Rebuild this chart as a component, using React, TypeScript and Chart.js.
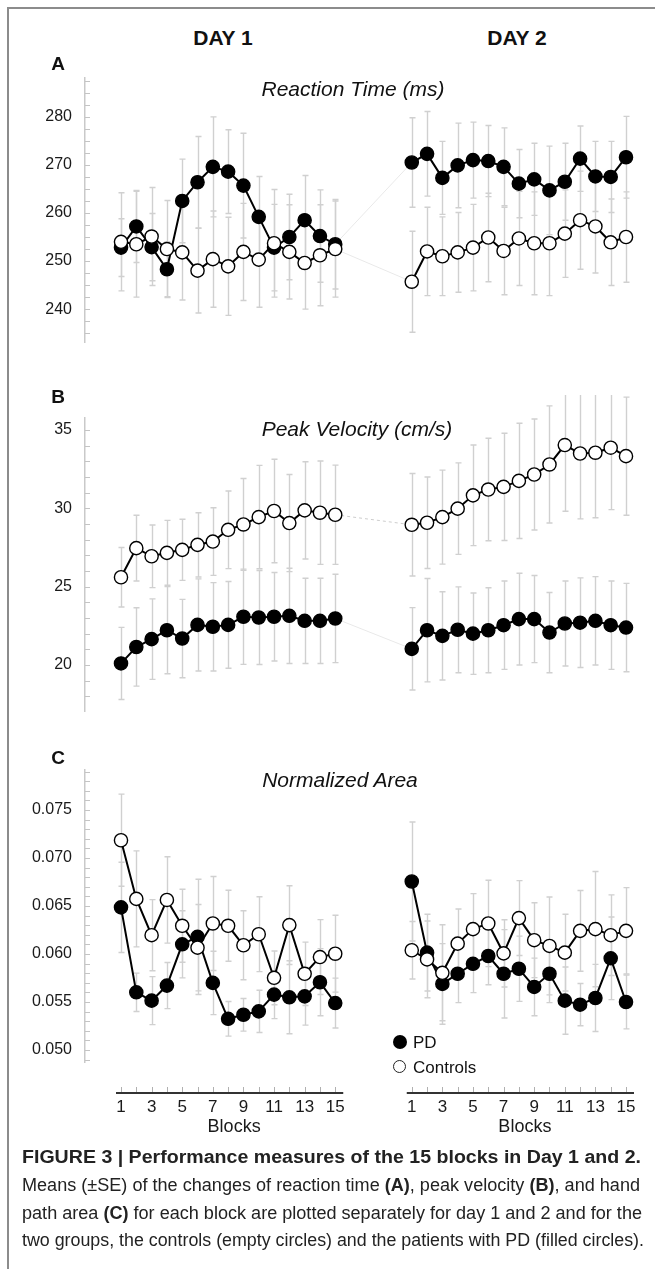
import React, { useEffect, useLayoutEffect, useRef } from "react";
import { Chart, registerables } from "chart.js";
Chart.register(...registerables);

const FONT = '"Liberation Sans", Arial, Helvetica, sans-serif';

// ---------- data ----------
const blocks = [1, 2, 3, 4, 5, 6, 7, 8, 9, 10, 11, 12, 13, 14, 15];
const xTickLabels = ["1", "3", "5", "7", "9", "11", "13", "15"];
const dayTitles = ["DAY 1", "DAY 2"];
const DAY2_SHIFT = 19;

// A: Reaction time (ms)
const rtTicks = [240, 250, 260, 270, 280];
const rtPdDay1 = [252.8, 257.2, 252.9, 248.3, 262.5, 266.4, 269.6, 268.6, 265.7, 259.2, 252.8, 255.0, 258.5, 255.2, 253.5];
const rtPdDay1Se = [6, 7.5, 7, 5.7, 8.7, 9.5, 10.4, 8.7, 10.9, 8.4, 9, 8.9, 9.3, 9.6, 9.3];
const rtCtrlDay1 = [254.0, 253.5, 255.1, 252.5, 251.8, 248.0, 250.4, 248.9, 251.9, 250.3, 253.7, 251.9, 249.6, 251.2, 252.5];
const rtCtrlDay1Se = [10.2, 11, 10.2, 10.1, 9.9, 8.8, 10, 10.2, 10.1, 9.9, 11.2, 9.8, 9.6, 10.5, 10];
const rtPdDay2 = [270.5, 272.3, 267.3, 269.9, 271.0, 270.8, 269.6, 266.1, 267.0, 264.7, 266.5, 271.3, 267.6, 267.5, 271.6];
const rtPdDay2Se = [9.3, 8.8, 7.6, 8.8, 7.9, 7.4, 8.1, 7.1, 7.5, 9.2, 8, 6.8, 7.3, 7.4, 8.5];
const rtCtrlDay2 = [245.7, 252.0, 251.0, 251.8, 252.8, 254.9, 252.1, 254.7, 253.7, 253.7, 255.7, 258.5, 257.2, 253.9, 255.0];
const rtCtrlDay2Se = [10.5, 9.2, 8.2, 8.3, 9, 9.2, 9.1, 9.8, 10.7, 10.9, 9.1, 10.2, 9.7, 9, 9.4];

// B: Peak velocity (cm/s)
const pvTicks = [20, 25, 30, 35];
const pvPdDay1 = [20.1, 21.15, 21.65, 22.22, 21.69, 22.56, 22.44, 22.56, 23.08, 23.03, 23.08, 23.14, 22.82, 22.82, 22.97];
const pvPdDay1Se = [2.3, 2.5, 2.57, 2.78, 2.5, 2.94, 2.82, 2.77, 3.04, 3.0, 2.82, 3.04, 2.72, 2.72, 2.82];
const pvCtrlDay1 = [25.6, 27.46, 26.94, 27.16, 27.35, 27.67, 27.88, 28.63, 28.97, 29.44, 29.83, 29.06, 29.87, 29.72, 29.59];
const pvCtrlDay1Se = [1.9, 2.1, 2.0, 2.07, 1.95, 2.05, 2.16, 2.48, 2.93, 3.3, 3.3, 3.1, 3.1, 3.3, 3.17];
const pvPdDay2 = [21.03, 22.22, 21.86, 22.25, 22.0, 22.22, 22.54, 22.93, 22.93, 22.07, 22.65, 22.7, 22.82, 22.54, 22.39];
const pvPdDay2Se = [2.63, 3.3, 2.82, 2.74, 2.6, 2.71, 2.82, 2.93, 2.78, 2.56, 2.71, 2.86, 2.82, 2.82, 2.82];
const pvCtrlDay2 = [28.95, 29.08, 29.44, 29.98, 30.83, 31.2, 31.37, 31.75, 32.16, 32.8, 34.04, 33.5, 33.55, 33.87, 33.33];
const pvCtrlDay2Se = [3.27, 2.92, 3.0, 2.92, 3.21, 3.27, 3.42, 3.68, 3.54, 3.74, 4.23, 4.17, 4.15, 3.95, 3.77];

// C: Normalized area
const naTicks = [0.05, 0.055, 0.06, 0.065, 0.07, 0.075];
const naPdDay1 = [0.06486, 0.05601, 0.05514, 0.05671, 0.06101, 0.06178, 0.05699, 0.05325, 0.05367, 0.05402, 0.05577, 0.05549, 0.05559, 0.05706, 0.05489];
const naPdDay1Se = [0.0047, 0.002, 0.0025, 0.0024, 0.0035, 0.006, 0.0033, 0.0018, 0.0017, 0.0022, 0.0025, 0.0038, 0.003, 0.0035, 0.0026];
const naCtrlDay1 = [0.07185, 0.06574, 0.06196, 0.06563, 0.06294, 0.06066, 0.06318, 0.06294, 0.06091, 0.06206, 0.05752, 0.06301, 0.05794, 0.05968, 0.06003];
const naCtrlDay1Se = [0.0048, 0.005, 0.0037, 0.0045, 0.0038, 0.0045, 0.0049, 0.0037, 0.0036, 0.0039, 0.0028, 0.0041, 0.0033, 0.0039, 0.004];
const naPdDay2 = [0.06755, 0.06014, 0.05688, 0.05794, 0.05898, 0.05979, 0.05794, 0.05846, 0.05657, 0.05794, 0.05514, 0.05472, 0.05542, 0.05955, 0.055];
const naPdDay2Se = [0.0062, 0.004, 0.0042, 0.003, 0.003, 0.003, 0.0046, 0.0034, 0.003, 0.003, 0.0035, 0.0022, 0.0035, 0.0043, 0.0028];
const naCtrlDay2 = [0.06039, 0.05944, 0.05804, 0.06108, 0.06259, 0.06318, 0.06007, 0.06374, 0.06144, 0.06084, 0.06014, 0.06241, 0.06259, 0.06196, 0.06241];
const naCtrlDay2Se = [0.003, 0.004, 0.005, 0.0036, 0.0037, 0.0045, 0.0035, 0.0039, 0.0039, 0.0051, 0.004, 0.0042, 0.006, 0.0042, 0.0045];

const legendLabels = ["PD", "Controls"];

// ---------- helpers ----------
const X_MIN = -1.3525;
const X_MAX = 35.2416;

const toPoints = (vals: number[], day: number) =>
  blocks.map((b, i) => ({ x: day === 1 ? b : b + DAY2_SHIFT, y: vals[i] }));

const figurePlugin = {
  id: "figureDecor",
  beforeDatasetsDraw(chart: any, _a: any, opts: any) {
    const { ctx, chartArea } = chart;
    const x = chart.scales.x;
    const y = chart.scales.y;
    ctx.save();
    // minor ticks on the y axis (inside)
    ctx.strokeStyle = "#c4c4c4";
    ctx.lineWidth = 1;
    const step = opts.minorStep;
    const k0 = Math.ceil(y.min / step - 1e-6);
    const k1 = Math.floor(y.max / step + 1e-6);
    for (let k = k0; k <= k1; k++) {
      const py = Math.round(y.getPixelForValue(k * step)) + 0.5;
      ctx.beginPath();
      ctx.moveTo(chartArea.left, py);
      ctx.lineTo(chartArea.left + 5, py);
      ctx.stroke();
    }
    // error bars
    ctx.strokeStyle = "#d0d0d0";
    ctx.lineWidth = 1.4;
    chart.data.datasets.forEach((ds: any) => {
      const errs = ds.errors;
      if (!errs) return;
      ds.data.forEach((p: any, i: number) => {
        const px = Math.round(x.getPixelForValue(p.x)) + 0.5;
        const top = y.getPixelForValue(p.y + errs[i]);
        const bot = y.getPixelForValue(p.y - errs[i]);
        ctx.beginPath();
        ctx.moveTo(px, top);
        ctx.lineTo(px, bot);
        ctx.moveTo(px - 3, top);
        ctx.lineTo(px + 3, top);
        ctx.moveTo(px - 3, bot);
        ctx.lineTo(px + 3, bot);
        ctx.stroke();
      });
    });
    ctx.restore();
  },
  afterDatasetsDraw(chart: any, _a: any, opts: any) {
    if (!opts.xAxis) return;
    const { ctx, chartArea } = chart;
    const x = chart.scales.x;
    const axisY = chartArea.bottom + 31;
    ctx.save();
    [0, DAY2_SHIFT].forEach((shift) => {
      const first = x.getPixelForValue(blocks[0] + shift);
      const last = x.getPixelForValue(blocks[blocks.length - 1] + shift);
      ctx.strokeStyle = "#b0b0b0";
      ctx.lineWidth = 1;
      blocks.forEach((b) => {
        const px = Math.round(x.getPixelForValue(b + shift)) + 0.5;
        ctx.beginPath();
        ctx.moveTo(px, axisY - 6);
        ctx.lineTo(px, axisY);
        ctx.stroke();
      });
      ctx.strokeStyle = "#333";
      ctx.lineWidth = 2;
      ctx.beginPath();
      ctx.moveTo(first - 5, axisY);
      ctx.lineTo(last + 8, axisY);
      ctx.stroke();
      ctx.fillStyle = "#1a1a1a";
      ctx.font = "17px " + FONT;
      ctx.textAlign = "center";
      ctx.textBaseline = "middle";
      xTickLabels.forEach((l) => {
        ctx.fillText(l, x.getPixelForValue(Number(l) + shift), axisY + 14);
      });
      ctx.font = "18px " + FONT;
      ctx.fillText("Blocks", (first + last) / 2 + 6, axisY + 34);
    });
    ctx.restore();
  },
};

type PanelCfg = {
  top: number;
  height: number;
  padTop: number;
  padBottom: number;
  yMin: number;
  yMax: number;
  ticks: number[];
  minorStep: number;
  fmt: (v: number) => string;
  pd: number[][];
  pdSe: number[][];
  ctrl: number[][];
  ctrlSe: number[][];
  connectors: boolean;
  ctrlDash: boolean;
  xAxis: boolean;
};

function Panel({ cfg }: { cfg: PanelCfg }) {
  const ref = useRef<HTMLCanvasElement>(null);
  useEffect(() => {
    const canvas = ref.current;
    if (!canvas) return;
    const series = (vals: number[], se: number[], day: number, filled: boolean) => ({
      data: toPoints(vals, day),
      errors: se,
      borderColor: "#000",
      borderWidth: 2,
      pointRadius: 6.6,
      pointHoverRadius: 6.6,
      pointBorderWidth: 1.4,
      pointBorderColor: "#000",
      pointBackgroundColor: filled ? "#000" : "#fff",
      backgroundColor: filled ? "#000" : "#fff",
      tension: 0,
      order: filled ? 1 : 0,
    });
    const datasets: any[] = [
      series(cfg.ctrl[0], cfg.ctrlSe[0], 1, false),
      series(cfg.ctrl[1], cfg.ctrlSe[1], 2, false),
      series(cfg.pd[0], cfg.pdSe[0], 1, true),
      series(cfg.pd[1], cfg.pdSe[1], 2, true),
    ];
    if (cfg.connectors) {
      datasets.push({
        data: [
          { x: blocks[14], y: cfg.pd[0][14] },
          { x: blocks[0] + DAY2_SHIFT, y: cfg.pd[1][0] },
        ],
        borderColor: "rgba(0,0,0,0.09)",
        borderWidth: 1,
        pointRadius: 0,
        order: 5,
      });
      datasets.push({
        data: [
          { x: blocks[14], y: cfg.ctrl[0][14] },
          { x: blocks[0] + DAY2_SHIFT, y: cfg.ctrl[1][0] },
        ],
        borderColor: cfg.ctrlDash ? "rgba(0,0,0,0.2)" : "rgba(0,0,0,0.09)",
        borderDash: cfg.ctrlDash ? [3, 3] : [],
        borderWidth: 1,
        pointRadius: 0,
        order: 5,
      });
    }
    const chart = new Chart(canvas, {
      type: "line",
      data: { datasets },
      options: {
        responsive: false,
        animation: false,
        devicePixelRatio: 1,
        layout: { padding: { top: cfg.padTop, bottom: cfg.padBottom, left: 0, right: 10 } },
        plugins: {
          legend: { display: false },
          tooltip: { enabled: false },
          figureDecor: { minorStep: cfg.minorStep, xAxis: cfg.xAxis },
        } as any,
        scales: {
          x: { type: "linear", display: false, min: X_MIN, max: X_MAX },
          y: {
            type: "linear",
            position: "left",
            min: cfg.yMin,
            max: cfg.yMax,
            afterBuildTicks: (s: any) => {
              s.ticks = cfg.ticks.map((v) => ({ value: v }));
            },
            afterFit: (s: any) => {
              s.width = 85;
              s.paddingTop = 0;
              s.paddingBottom = 0;
            },
            ticks: {
              padding: 13,
              color: "#1a1a1a",
              font: { family: FONT, size: 16 },
              callback: (v: any) => cfg.fmt(Number(v)),
            },
            grid: { display: true, drawOnChartArea: false, drawTicks: false },
            border: { display: true, color: "#c9c9c9", width: 1.5 },
          },
        },
      } as any,
      plugins: [figurePlugin as any],
    });
    return () => chart.destroy();
  }, []);
  return (
    <canvas
      ref={ref}
      width={655}
      height={cfg.height}
      style={{ position: "absolute", left: 0, top: cfg.top, width: 655, height: cfg.height }}
    />
  );
}

function Txt(props: {
  cx: number;
  cy: number;
  size: number;
  bold?: boolean;
  italic?: boolean;
  children: React.ReactNode;
}) {
  const { cx, cy, size, bold, italic, children } = props;
  return (
    <div
      style={{
        position: "absolute",
        left: cx - 150,
        width: 300,
        top: cy - size / 2,
        lineHeight: `${size}px`,
        fontSize: size,
        fontFamily: FONT,
        fontWeight: bold ? 700 : 400,
        fontStyle: italic ? "italic" : "normal",
        textAlign: "center",
        whiteSpace: "nowrap",
        color: "#111",
      }}
    >
      {children}
    </div>
  );
}

function FitLine(props: { top: number; width: number; children: React.ReactNode; bold?: boolean }) {
  const ref = useRef<HTMLDivElement>(null);
  useLayoutEffect(() => {
    const el = ref.current;
    if (!el) return;
    el.style.transform = "none";
    const w = el.getBoundingClientRect().width;
    if (w > 0) el.style.transform = `scaleX(${props.width / w})`;
  }, [props.width]);
  return (
    <div
      ref={ref}
      style={{
        position: "absolute",
        left: 22,
        top: props.top,
        whiteSpace: "nowrap",
        transformOrigin: "0 0",
        fontFamily: FONT,
        fontSize: 17.5,
        lineHeight: "28px",
        fontWeight: props.bold ? 700 : 400,
        color: "#222",
      }}
    >
      {props.children}
    </div>
  );
}

const panelA: PanelCfg = {
  top: 60, height: 290, padTop: 18, padBottom: 7,
  yMin: 233.16, yMax: 288.08, ticks: rtTicks, minorStep: 2.5,
  fmt: (v) => String(Math.round(v)),
  pd: [rtPdDay1, rtPdDay2], pdSe: [rtPdDay1Se, rtPdDay2Se],
  ctrl: [rtCtrlDay1, rtCtrlDay2], ctrlSe: [rtCtrlDay1Se, rtCtrlDay2Se],
  connectors: true, ctrlDash: false, xAxis: false,
};
const panelB: PanelCfg = {
  top: 395, height: 325, padTop: 23, padBottom: 9,
  yMin: 17.064, yMax: 35.766, ticks: pvTicks, minorStep: 1,
  fmt: (v) => String(Math.round(v)),
  pd: [pvPdDay1, pvPdDay2], pdSe: [pvPdDay1Se, pvPdDay2Se],
  ctrl: [pvCtrlDay1, pvCtrlDay2], ctrlSe: [pvCtrlDay1Se, pvCtrlDay2Se],
  connectors: true, ctrlDash: true, xAxis: false,
};
const panelC: PanelCfg = {
  top: 750, height: 400, padTop: 20, padBottom: 88,
  yMin: 0.04875, yMax: 0.079167, ticks: naTicks, minorStep: 0.001,
  fmt: (v) => v.toFixed(3),
  pd: [naPdDay1, naPdDay2], pdSe: [naPdDay1Se, naPdDay2Se],
  ctrl: [naCtrlDay1, naCtrlDay2], ctrlSe: [naCtrlDay1Se, naCtrlDay2Se],
  connectors: false, ctrlDash: false, xAxis: true,
};

export default function App() {
  return (
    <div
      style={{
        position: "absolute",
        left: 0,
        top: 0,
        width: 655,
        height: 1269,
        background: "#fff",
        overflow: "hidden",
      }}
    >
      <div
        style={{
          position: "absolute",
          left: 7,
          top: 7,
          right: 0,
          bottom: 0,
          borderLeft: "2px solid #8c8c8c",
          borderTop: "2px solid #8c8c8c",
        }}
      />
      <Panel cfg={panelA} />
      <Panel cfg={panelB} />
      <Panel cfg={panelC} />

      <Txt cx={223} cy={37} size={21} bold>{dayTitles[0]}</Txt>
      <Txt cx={517} cy={37} size={21} bold>{dayTitles[1]}</Txt>

      <Txt cx={58} cy={63} size={19} bold>A</Txt>
      <Txt cx={58} cy={396} size={19} bold>B</Txt>
      <Txt cx={58} cy={757} size={19} bold>C</Txt>

      <Txt cx={353} cy={88} size={21} italic>Reaction Time (ms)</Txt>
      <Txt cx={357} cy={428} size={21} italic>Peak Velocity (cm/s)</Txt>
      <Txt cx={340} cy={779} size={21} italic>Normalized Area</Txt>

      {/* legend */}
      <div style={{ position: "absolute", left: 393, top: 1035, width: 14, height: 14, borderRadius: "50%", background: "#000" }} />
      <div style={{ position: "absolute", left: 413, top: 1042 - 8.5, fontFamily: FONT, fontSize: 17, lineHeight: "17px", color: "#111" }}>{legendLabels[0]}</div>
      <div style={{ position: "absolute", left: 392.5, top: 1059.5, width: 13, height: 13, borderRadius: "50%", background: "#fff", border: "1px solid #222", boxSizing: "border-box" }} />
      <div style={{ position: "absolute", left: 413, top: 1067 - 8.5, fontFamily: FONT, fontSize: 17, lineHeight: "17px", color: "#111" }}>{legendLabels[1]}</div>

      {/* caption */}
      <FitLine top={1143} width={619} bold>
        FIGURE 3 | Performance measures of the 15 blocks in Day 1 and 2.
      </FitLine>
      <FitLine top={1171} width={618}>
        Means (±SE) of the changes of reaction time <b>(A)</b>, peak velocity <b>(B)</b>, and hand
      </FitLine>
      <FitLine top={1199} width={620}>
        path area <b>(C)</b> for each block are plotted separately for day 1 and 2 and for the
      </FitLine>
      <FitLine top={1226} width={622}>
        two groups, the controls (empty circles) and the patients with PD (filled circles).
      </FitLine>
    </div>
  );
}
